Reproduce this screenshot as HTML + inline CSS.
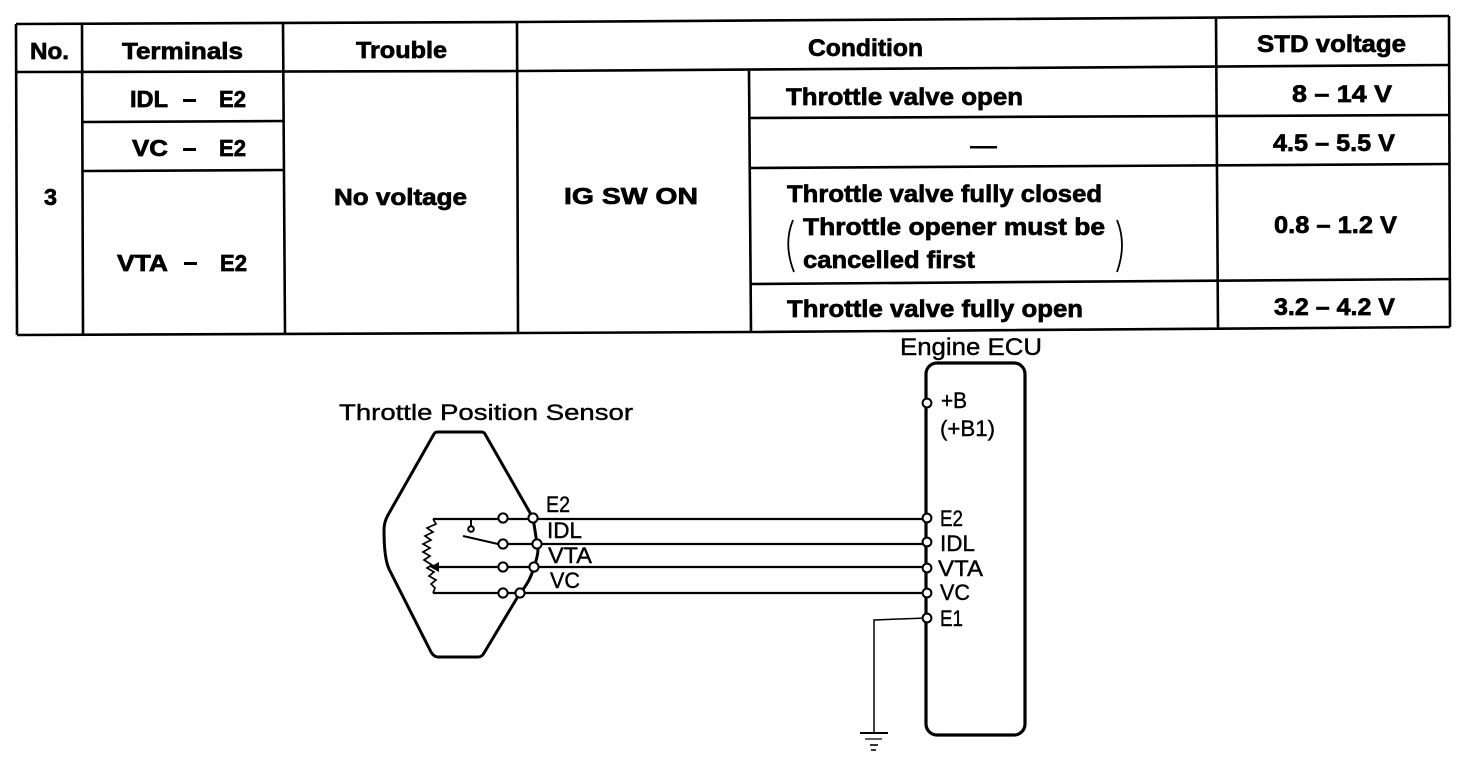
<!DOCTYPE html>
<html>
<head>
<meta charset="utf-8">
<style>
html,body{margin:0;padding:0;background:#fff;width:1472px;height:766px;overflow:hidden}
svg{display:block}
text{font-family:"Liberation Sans",sans-serif;fill:#000}
.b{font-weight:bold;font-size:23px;stroke:#000;stroke-width:.7px}
.n{font-size:24.5px}
.r{font-size:22.5px;stroke:#000;stroke-width:.4px}
.t{fill:none;stroke:#000;stroke-width:2.6}
.w{fill:none;stroke:#000;stroke-width:2.2}
.c{fill:#fff;stroke:#000;stroke-width:2}
</style>
</head>
<body>
<svg width="1472" height="766" viewBox="0 0 1472 766" xmlns="http://www.w3.org/2000/svg">
<rect width="1472" height="766" fill="#fff"/>
<!-- table lines -->
<g class="t">
<path d="M16 24L518 22L1000 19L1449 16"/>
<path d="M17 335L518 333L751 332L1450 327"/>
<path d="M16 24L17 335"/>
<path d="M1449 16L1450 327"/>
<path d="M16 72L518 71L1000 68L1449 65"/>
<path d="M82 24L83 335"/>
<path d="M283 23L285 334"/>
<path d="M517 22L518 333"/>
<path d="M749 71L751 332"/>
<path d="M1216 18L1218 329"/>
<path d="M83 122L284 121"/>
<path d="M83 171L284 170"/>
<path d="M750 118L1449 115"/>
<path d="M750 168L1449 164"/>
<path d="M751 284L1450 279"/>
</g>
<!-- table text -->
<g class="b">
<text x="30" y="59" textLength="39" lengthAdjust="spacingAndGlyphs">No.</text>
<text x="122" y="59" textLength="121" lengthAdjust="spacingAndGlyphs">Terminals</text>
<text x="356" y="58" textLength="91" lengthAdjust="spacingAndGlyphs">Trouble</text>
<text class="n" x="808" y="56" textLength="115" lengthAdjust="spacingAndGlyphs">Condition</text>
<text class="n" x="1257" y="52" textLength="149" lengthAdjust="spacingAndGlyphs">STD voltage</text>
<text x="44" y="205" textLength="13" lengthAdjust="spacingAndGlyphs">3</text>
<text x="130" y="107" textLength="38" lengthAdjust="spacingAndGlyphs">IDL</text>
<text x="219" y="107" textLength="27" lengthAdjust="spacingAndGlyphs">E2</text>
<text x="132" y="156" textLength="36" lengthAdjust="spacingAndGlyphs">VC</text>
<text x="219" y="156" textLength="27" lengthAdjust="spacingAndGlyphs">E2</text>
<text x="117" y="271" textLength="51" lengthAdjust="spacingAndGlyphs">VTA</text>
<text x="220" y="271" textLength="27" lengthAdjust="spacingAndGlyphs">E2</text>
<text x="334" y="205" textLength="133" lengthAdjust="spacingAndGlyphs">No voltage</text>
<text x="564" y="204" textLength="134" lengthAdjust="spacingAndGlyphs">IG SW ON</text>
<text class="n" x="786" y="105" textLength="237" lengthAdjust="spacingAndGlyphs">Throttle valve open</text>
<text class="n" x="787" y="202" textLength="315" lengthAdjust="spacingAndGlyphs">Throttle valve fully closed</text>
<text class="n" x="803" y="235" textLength="302" lengthAdjust="spacingAndGlyphs">Throttle opener must be</text>
<text class="n" x="803" y="268" textLength="172" lengthAdjust="spacingAndGlyphs">cancelled first</text>
<text class="n" x="787" y="317" textLength="296" lengthAdjust="spacingAndGlyphs">Throttle valve fully open</text>
<text class="n" x="1292" y="102" textLength="100" lengthAdjust="spacingAndGlyphs">8 – 14 V</text>
<text class="n" x="1273" y="151" textLength="122" lengthAdjust="spacingAndGlyphs">4.5 – 5.5 V</text>
<text class="n" x="1274" y="233" textLength="123" lengthAdjust="spacingAndGlyphs">0.8 – 1.2 V</text>
<text class="n" x="1274" y="315" textLength="121" lengthAdjust="spacingAndGlyphs">3.2 – 4.2 V</text>
</g>
<g fill="#000" stroke="none">
<rect x="183" y="99" width="13" height="3"/>
<rect x="183" y="148" width="13" height="3"/>
<rect x="184" y="262" width="13" height="3"/>
<rect x="970" y="146" width="27" height="2.5"/>
</g>
<path d="M793 220Q783 244 794 272M1117 220Q1127 244 1117 272" fill="none" stroke="#000" stroke-width="1.8"/>
<!-- sensor outline -->
<path d="M533 518L485 434Q484 432 481 432L438 432Q435 432 434 434L388 515Q384 522 384 530Q384 558 389 569L431 652Q434 657 438 657L478 657Q482 657 484 653L520 593Q530 582 534 567Q540 550 537 544Q535 530 533 518" fill="none" stroke="#000" stroke-width="3" stroke-linejoin="round"/>
<!-- wires -->
<g class="w">
<path d="M433 519H927"/>
<path d="M503 544H927"/>
<path d="M432 567H927"/>
<path d="M433 593H927"/>
<path d="M463 536L498 544" stroke-width="2"/>
<path d="M471 519V526" stroke-width="2"/>
<path d="M433 519L436 524L427 528L433 532L425 536L431 540L423 544L430 548L423 552L430 556L424 560L432 565L427 568L434 572L429 576L436 580L431 584L435 588L433 593" stroke-width="1.7"/>
</g>
<path d="M430 567L439 562V572Z" fill="#000"/>
<circle class="c" cx="471" cy="529" r="2.8"/>
<g class="c">
<circle cx="503" cy="518" r="4.6"/>
<circle cx="503" cy="544" r="4.6"/>
<circle cx="503" cy="567" r="4.6"/>
<circle cx="503" cy="593" r="4.6"/>
<circle cx="533" cy="518" r="4.6"/>
<circle cx="537" cy="544" r="4.6"/>
<circle cx="534" cy="567" r="4.6"/>
<circle cx="520" cy="593" r="4.6"/>
</g>
<!-- ECU -->
<rect x="926" y="363" width="99" height="372" rx="11" ry="11" fill="none" stroke="#000" stroke-width="3.2"/>
<path d="M927 618L874 620V733" fill="none" stroke="#000" stroke-width="1.5"/>
<path d="M860 733H888" stroke="#000" stroke-width="2"/>
<path d="M865 739H882" stroke="#000" stroke-width="1.2"/>
<path d="M870 745H878" stroke="#000" stroke-width="1.6"/>
<path d="M871 750H876" stroke="#000" stroke-width="1.6"/>
<g class="c">
<circle cx="927" cy="403" r="4.4"/>
<circle cx="927" cy="518" r="4.4"/>
<circle cx="927" cy="542" r="4.4"/>
<circle cx="927" cy="568" r="4.4"/>
<circle cx="927" cy="593" r="4.4"/>
<circle cx="927" cy="618" r="4.4"/>
</g>
<!-- diagram labels -->
<g class="r">
<text x="900" y="355" textLength="142" lengthAdjust="spacingAndGlyphs" font-size="24">Engine ECU</text>
<text x="339" y="420" textLength="294" lengthAdjust="spacingAndGlyphs">Throttle Position Sensor</text>
<text x="941" y="408" textLength="26" lengthAdjust="spacingAndGlyphs">+B</text>
<text x="940" y="436" textLength="55" lengthAdjust="spacingAndGlyphs">(+B1)</text>
<text x="940" y="526" textLength="23" lengthAdjust="spacingAndGlyphs">E2</text>
<text x="940" y="551" textLength="35" lengthAdjust="spacingAndGlyphs">IDL</text>
<text x="938" y="576" textLength="45" lengthAdjust="spacingAndGlyphs">VTA</text>
<text x="940" y="600" textLength="30" lengthAdjust="spacingAndGlyphs">VC</text>
<text x="940" y="626" textLength="23" lengthAdjust="spacingAndGlyphs">E1</text>
<text x="546" y="512" textLength="24" lengthAdjust="spacingAndGlyphs">E2</text>
<text x="547" y="538" textLength="35" lengthAdjust="spacingAndGlyphs">IDL</text>
<text x="548" y="563" textLength="44" lengthAdjust="spacingAndGlyphs">VTA</text>
<text x="550" y="588" textLength="30" lengthAdjust="spacingAndGlyphs">VC</text>
</g>
</svg>
</body>
</html>
